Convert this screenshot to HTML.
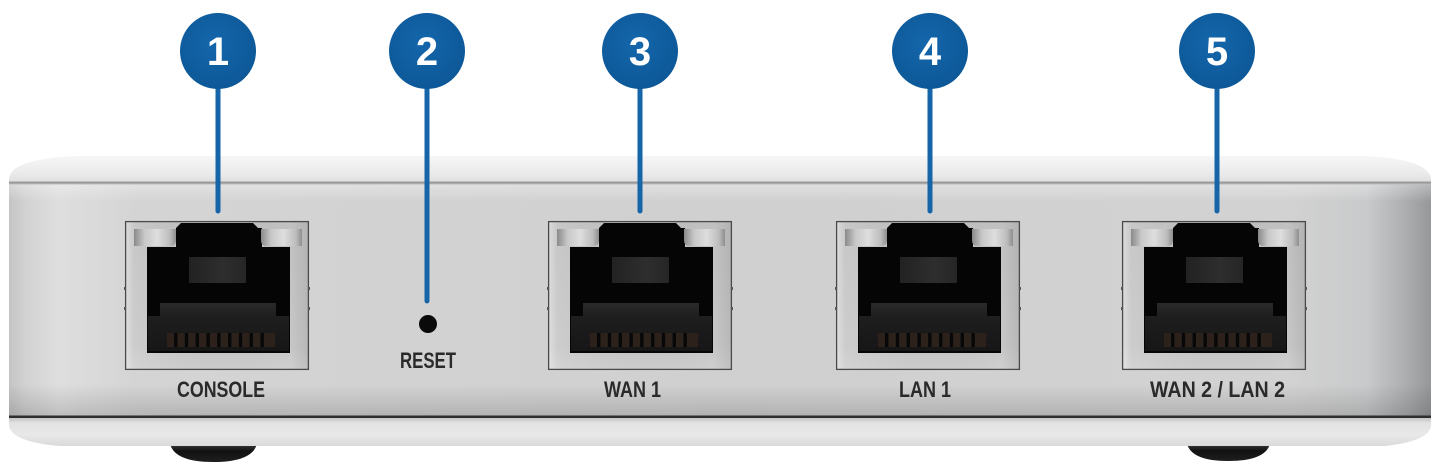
<!DOCTYPE html>
<html>
<head>
<meta charset="utf-8">
<style>
  html,body{margin:0;padding:0;background:#fff;}
  svg{display:block;}
</style>
</head>
<body>
<svg width="1440" height="471" viewBox="0 0 1440 471" xmlns="http://www.w3.org/2000/svg">
  <defs>
    <linearGradient id="topG" x1="0" y1="0" x2="0" y2="1">
      <stop offset="0" stop-color="#f6f6f6"/>
      <stop offset="0.6" stop-color="#ebebeb"/>
      <stop offset="1" stop-color="#dedede"/>
    </linearGradient>
    <linearGradient id="faceH" x1="0" y1="0" x2="1" y2="0">
      <stop offset="0" stop-color="#c4c4c4"/>
      <stop offset="0.012" stop-color="#d2d2d2"/>
      <stop offset="0.035" stop-color="#dedede"/>
      <stop offset="0.09" stop-color="#d4d4d4"/>
      <stop offset="0.5" stop-color="#d0d0d0"/>
      <stop offset="0.9" stop-color="#d2d2d2"/>
      <stop offset="0.955" stop-color="#c9cacb"/>
      <stop offset="0.982" stop-color="#acaeaf"/>
      <stop offset="1" stop-color="#959798"/>
    </linearGradient>
    <linearGradient id="faceV" x1="0" y1="0" x2="0" y2="1">
      <stop offset="0" stop-color="#ffffff" stop-opacity="0.35"/>
      <stop offset="0.08" stop-color="#ffffff" stop-opacity="0"/>
      <stop offset="0.86" stop-color="#000000" stop-opacity="0"/>
      <stop offset="1" stop-color="#000000" stop-opacity="0.15"/>
    </linearGradient>
    <linearGradient id="botG" x1="0" y1="0" x2="0" y2="1">
      <stop offset="0" stop-color="#c4c4c4"/>
      <stop offset="0.18" stop-color="#e2e2e2"/>
      <stop offset="0.6" stop-color="#e8e8e8"/>
      <stop offset="1" stop-color="#dadada"/>
    </linearGradient>
    <linearGradient id="footG" x1="0" y1="0" x2="0" y2="1">
      <stop offset="0" stop-color="#3a3a3a"/>
      <stop offset="0.4" stop-color="#111"/>
      <stop offset="1" stop-color="#1e1e1e"/>
    </linearGradient>
    <linearGradient id="frameG" x1="0" y1="0" x2="0" y2="1">
      <stop offset="0" stop-color="#c1c1c1"/>
      <stop offset="0.85" stop-color="#c7c7c7"/>
      <stop offset="1" stop-color="#d0d0d0"/>
    </linearGradient>
    <linearGradient id="frameH" x1="0" y1="0" x2="1" y2="0">
      <stop offset="0" stop-color="#ffffff" stop-opacity="0.45"/>
      <stop offset="0.05" stop-color="#ffffff" stop-opacity="0.1"/>
      <stop offset="0.9" stop-color="#000000" stop-opacity="0"/>
      <stop offset="1" stop-color="#000000" stop-opacity="0.08"/>
    </linearGradient>
    <linearGradient id="pillG" x1="0" y1="0" x2="1" y2="0">
      <stop offset="0" stop-color="#8a8a8a"/>
      <stop offset="0.25" stop-color="#c8c8c8"/>
      <stop offset="0.55" stop-color="#dedede"/>
      <stop offset="0.85" stop-color="#bdbdbd"/>
      <stop offset="1" stop-color="#8e8e8e"/>
    </linearGradient>
    <linearGradient id="latchG" x1="0" y1="0" x2="1" y2="0">
      <stop offset="0" stop-color="#222"/>
      <stop offset="0.6" stop-color="#2e2e2e"/>
      <stop offset="1" stop-color="#262626"/>
    </linearGradient>
    <linearGradient id="lowG" x1="0" y1="0" x2="0" y2="1">
      <stop offset="0" stop-color="#2a2a2a"/>
      <stop offset="0.3" stop-color="#1e1e1e"/>
      <stop offset="1" stop-color="#161616"/>
    </linearGradient>
    <radialGradient id="circG" cx="0.45" cy="0.4" r="0.65">
      <stop offset="0" stop-color="#1466ab"/>
      <stop offset="1" stop-color="#0c5796"/>
    </radialGradient>

    <g id="port">
      <rect x="0" y="0" width="184" height="149" fill="url(#frameG)"/>
      <rect x="0" y="0" width="184" height="149" fill="url(#frameH)"/>
      <rect x="0.6" y="0.6" width="182.8" height="147.8" fill="none" stroke="#4a4a4a" stroke-width="1.3"/>
      <rect x="-1" y="66" width="2" height="3" fill="#555"/>
      <rect x="-1" y="86" width="2" height="3" fill="#555"/>
      <rect x="183" y="66" width="2" height="3" fill="#555"/>
      <rect x="183" y="86" width="2" height="3" fill="#555"/>
      <path d="M56,2 H128 L133,7 H137 V26 H165 V132 H22 V26 H51 V7 Z" fill="#050505"/>
      <path d="M9,8 H51 V19 Q51,25 45,25 H9 Z" fill="url(#pillG)"/>
      <path d="M136,8 H177 V25 H142 Q136,25 136,19 Z" fill="url(#pillG)"/>
      <rect x="64" y="36" width="57" height="26" fill="url(#latchG)"/>
      <path d="M35,82 H151 V95 H164 V130 H23 V95 H35 Z" fill="url(#lowG)"/>
      <rect x="42" y="112" width="108" height="14" fill="#2c221b"/>
      <g fill="#080808">
        <rect x="49" y="112" width="3.4" height="14"/>
        <rect x="59.8" y="112" width="3.4" height="14"/>
        <rect x="70.6" y="112" width="3.4" height="14"/>
        <rect x="81.4" y="112" width="3.4" height="14"/>
        <rect x="92.2" y="112" width="3.4" height="14"/>
        <rect x="103" y="112" width="3.4" height="14"/>
        <rect x="113.8" y="112" width="3.4" height="14"/>
        <rect x="124.6" y="112" width="3.4" height="14"/>
        <rect x="135.4" y="112" width="3.4" height="14"/>
      </g>
    </g>
  </defs>

  <rect width="1440" height="471" fill="#ffffff"/>

  <path d="M170,444 H257 Q252,462 213,462 Q175,462 170,444 Z" fill="url(#footG)"/>
  <path d="M1187,444 H1270 Q1265,461 1228,461 Q1192,461 1187,444 Z" fill="url(#footG)"/>

  <path d="M9,418 H1431 V426 Q1429,441 1385,446 H60 Q12,442 9,426 Z" fill="url(#botG)"/>

  <path d="M9,184 V178 Q12,159 75,156 H1365 Q1427,159 1431,178 V184 Z" fill="url(#topG)"/>

  <rect x="9" y="183" width="1422" height="234" fill="url(#faceH)"/>
  <rect x="9" y="183" width="1422" height="234" fill="url(#faceV)"/>
  <rect x="9" y="181.5" width="1422" height="2" fill="#9a9a9a"/>
  <rect x="9" y="183.5" width="1422" height="1" fill="#bbbbbb"/>
  <rect x="9" y="415.5" width="1422" height="2.5" fill="#2e2e2e"/>

  <use href="#port" x="125" y="221"/>
  <use href="#port" x="548" y="221"/>
  <use href="#port" x="836" y="221"/>
  <use href="#port" x="1122" y="221"/>

  <circle cx="428" cy="324" r="9" fill="#0a0a0a"/>

  <g font-family="'Liberation Sans', Arial, sans-serif" font-weight="bold" font-size="22" fill="#2a2a2a">
    <text x="177" y="397" textLength="88" lengthAdjust="spacingAndGlyphs">CONSOLE</text>
    <text x="400" y="368" textLength="56" lengthAdjust="spacingAndGlyphs">RESET</text>
    <text x="604" y="397" textLength="57" lengthAdjust="spacingAndGlyphs">WAN 1</text>
    <text x="899" y="397" textLength="52" lengthAdjust="spacingAndGlyphs">LAN 1</text>
    <text x="1150" y="397" textLength="135" lengthAdjust="spacingAndGlyphs">WAN 2 / LAN 2</text>
  </g>

  <g stroke="#1565a8" stroke-width="5" stroke-linecap="round">
    <line x1="218" y1="80" x2="218" y2="211"/>
    <line x1="427" y1="80" x2="427" y2="301"/>
    <line x1="640" y1="80" x2="640" y2="211"/>
    <line x1="930" y1="80" x2="930" y2="211"/>
    <line x1="1217" y1="80" x2="1217" y2="211"/>
  </g>

  <g fill="url(#circG)">
    <circle cx="218" cy="51" r="38"/>
    <circle cx="427" cy="51" r="38"/>
    <circle cx="640" cy="51" r="38"/>
    <circle cx="930" cy="51" r="38"/>
    <circle cx="1217" cy="51" r="38"/>
  </g>
  <g font-family="'Liberation Sans', Arial, sans-serif" font-weight="bold" font-size="40" fill="#ffffff" text-anchor="middle">
    <text x="218" y="65">1</text>
    <text x="427" y="65">2</text>
    <text x="640" y="65">3</text>
    <text x="930" y="65">4</text>
    <text x="1217" y="65">5</text>
  </g>
</svg>
</body>
</html>
